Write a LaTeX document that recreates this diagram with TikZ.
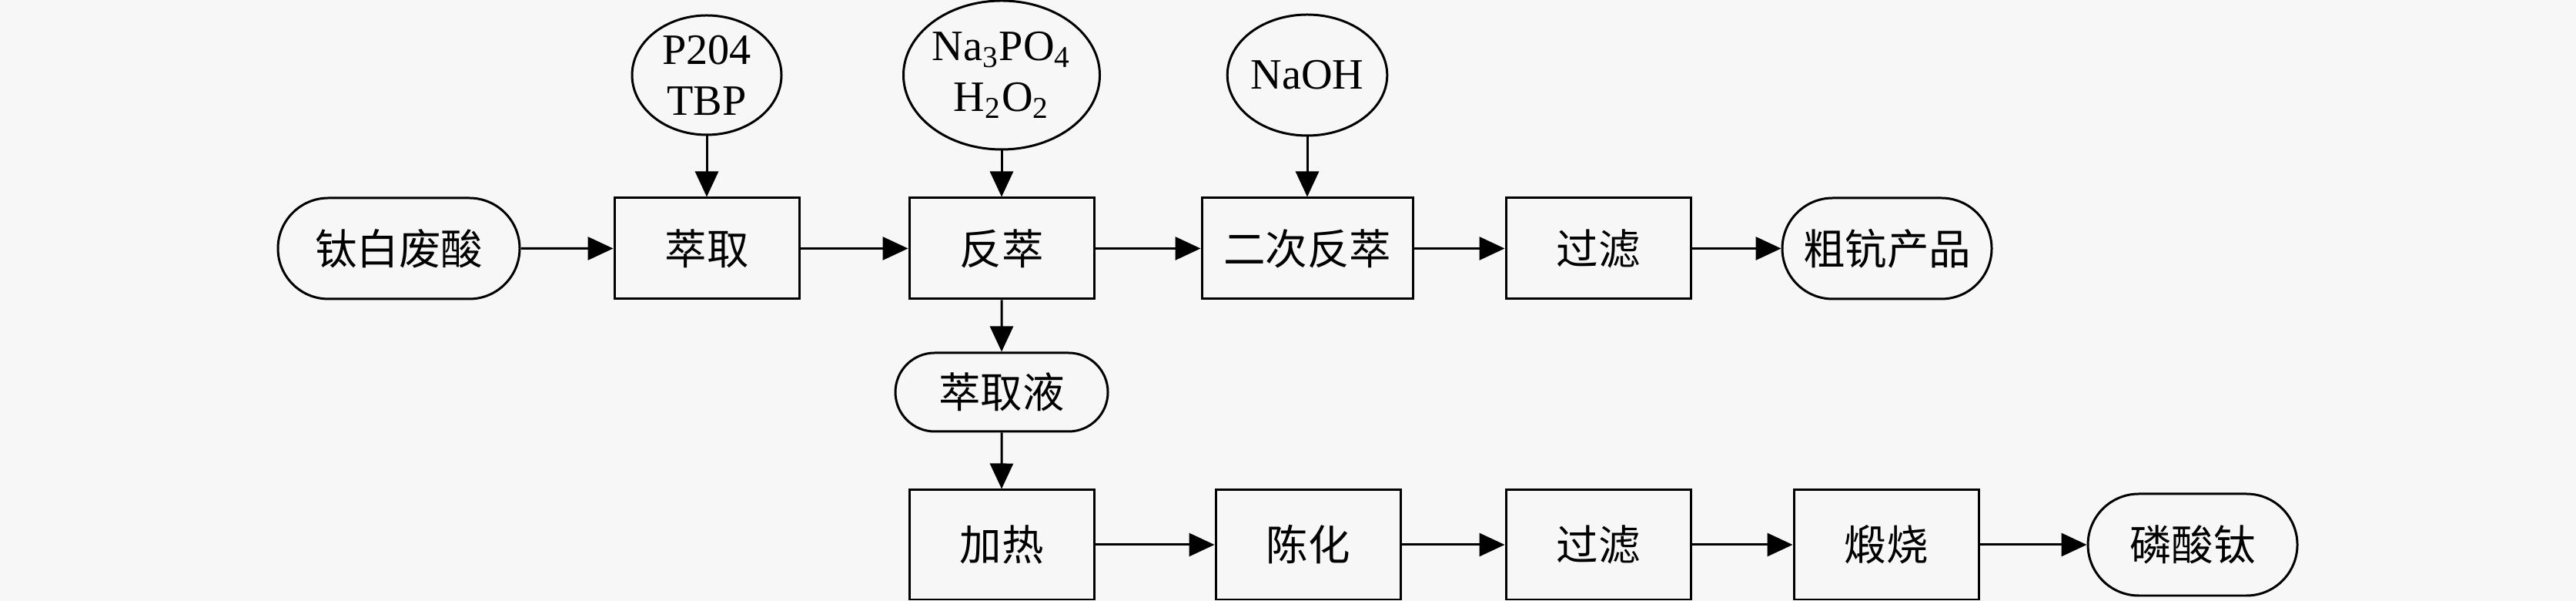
\documentclass[tikz,border=0pt]{standalone}
\usepackage{fontspec}
\setmainfont{Liberation Serif}
\newfontfamily\cjk{Noto Sans CJK SC}
\usetikzlibrary{positioning, arrows.meta, shapes.geometric, shapes.misc}

\begin{document}
\begin{tikzpicture}[on grid, >={Triangle[length=3.3mm, width=3mm]}, line width=0.85pt,
    proc/.style={draw, rectangle, minimum width=2.4cm, minimum height=1.31cm, inner sep=0pt, font=\cjk\fontsize{15.5}{18}\selectfont},
    term/.style={draw, rounded rectangle, minimum width=3.14cm, minimum height=1.31cm, inner sep=0pt, font=\cjk\fontsize{15.5}{18}\selectfont},
    feed/.style={draw, ellipse, minimum width=1.94cm, minimum height=1.55cm, inner sep=0pt, align=center, font=\fontsize{16}{18.8}\selectfont}]
    \fill[black!3] (0,0) rectangle (33.46,7.8);
    \useasboundingbox (0,0) rectangle (33.46,7.8);

    \node[term] (acid) at (5.18,4.575) {钛白废酸};
    \node[proc] (ext) [right=4cm of acid] {萃取};
    \node[proc] (strip) [right=3.83cm of ext] {反萃};
    \node[proc, minimum width=2.74cm] (strip2) [right=3.97cm of strip] {二次反萃};
    \node[proc] (filt) [right=3.78cm of strip2] {过滤};
    \node[term, minimum width=2.72cm] (crude) [right=3.75cm of filt] {粗钪产品};

    \node[feed] (p204) [above=2.25cm of ext] {P204\\TBP};
    \node[feed, minimum width=2.4cm, minimum height=1.93cm] (naph) [above=2.25cm of strip] {Na\textsubscript{3}PO\textsubscript{4}\\H\textsubscript{2}O\textsubscript{2}};
    \node[feed, minimum width=1.92cm, minimum height=1.57cm] (naoh) [above=2.25cm of strip2] {NaOH};

    \node[term, minimum width=2.76cm, minimum height=1.02cm] (liq) [below=1.865cm of strip] {萃取液};
    \node[proc, minimum height=1.42cm] (heat) [below=1.98cm of liq] {加热};
    \node[proc, minimum height=1.42cm] (age) [right=3.98cm of heat] {陈化};
    \node[proc, minimum height=1.42cm] (filt2) [right=3.77cm of age] {过滤};
    \node[proc, minimum height=1.42cm] (calc) [right=3.74cm of filt2] {煅烧};
    \node[term, minimum width=2.72cm, minimum height=1.32cm] (tip) [right=3.98cm of calc] {磷酸钛};

    \path[->]
    (acid) edge (ext)
    (ext) edge (strip)
    (strip) edge (strip2)
    (strip2) edge (filt)
    (filt) edge (crude)
    (p204) edge (ext)
    (naph) edge (strip)
    (naoh) edge (strip2)
    (strip) edge (liq)
    (liq) edge (heat)
    (heat) edge (age)
    (age) edge (filt2)
    (filt2) edge (calc)
    (calc) edge (tip);
\end{tikzpicture}
\end{document}
